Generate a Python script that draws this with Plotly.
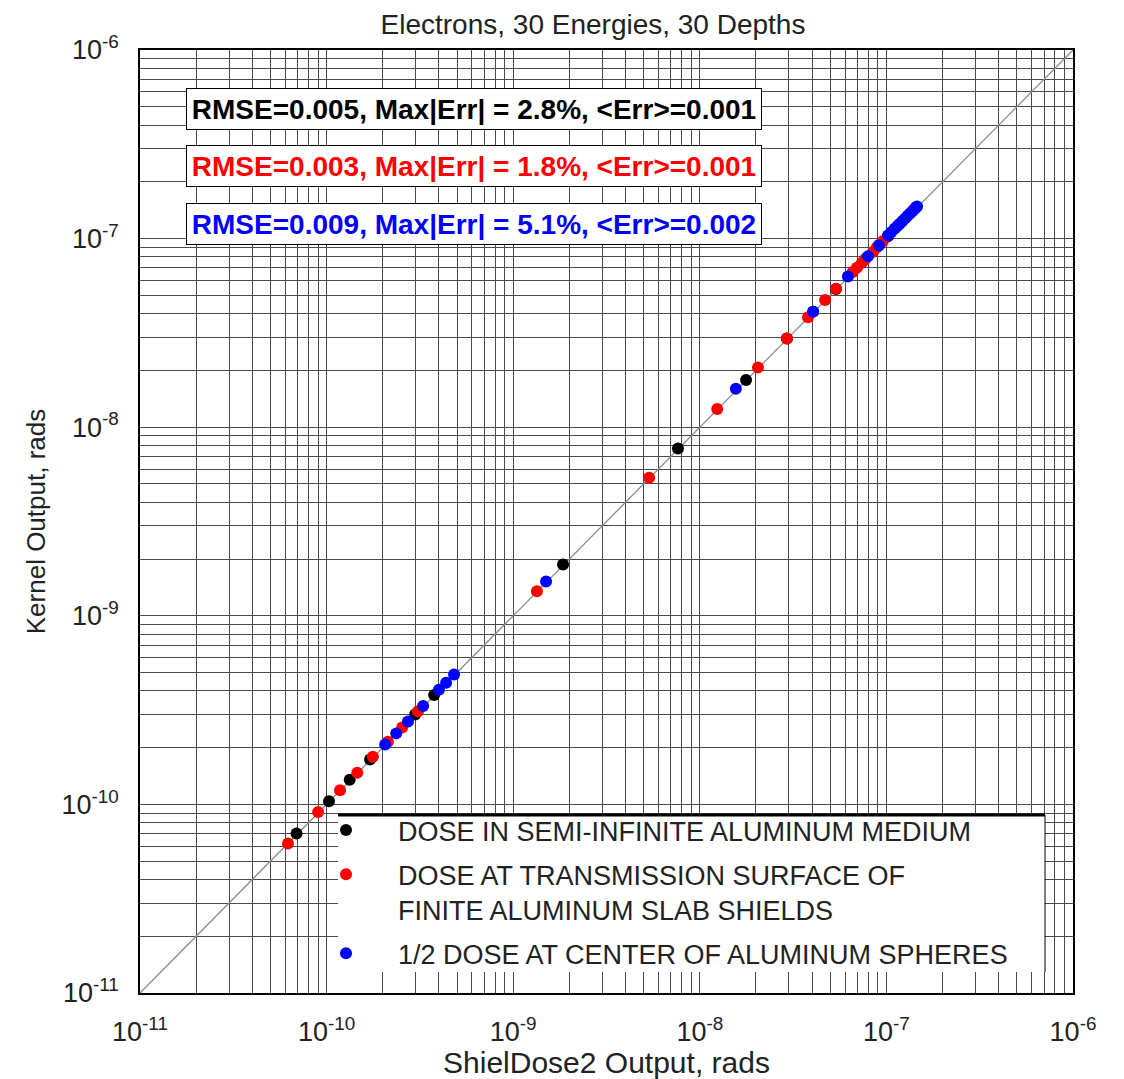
import plotly.graph_objects as go

# ---------------- data ----------------
black_x = [6.9e-11, 1.03e-10, 1.33e-10, 1.71e-10, 2.98e-10, 3.77e-10, 1.85e-9, 7.64e-9,
           1.77e-8, 2.93e-8, 4.05e-8, 5.37e-8, 1.02e-7]
black_y = [7.0e-11, 1.04e-10, 1.35e-10, 1.73e-10, 3.0e-10, 3.8e-10, 1.87e-9, 7.7e-9,
           1.78e-8, 2.95e-8, 4.1e-8, 5.4e-8, 1.03e-7]

red_x = [6.21e-11, 9.0e-11, 1.18e-10, 1.46e-10, 1.77e-10, 2.13e-10, 2.54e-10, 3.09e-10,
         1.34e-9, 5.35e-9, 1.24e-8, 2.05e-8, 2.93e-8, 3.8e-8, 4.69e-8, 5.37e-8,
         6.6e-8, 6.95e-8, 7.39e-8, 7.7e-8, 8.47e-8, 8.9e-8, 9.2e-8, 9.6e-8]
red_y = [6.2e-11, 9.1e-11, 1.19e-10, 1.47e-10, 1.79e-10, 2.15e-10, 2.56e-10, 3.12e-10,
         1.35e-9, 5.4e-9, 1.25e-8, 2.07e-8, 2.95e-8, 3.83e-8, 4.72e-8, 5.42e-8,
         6.65e-8, 7.0e-8, 7.45e-8, 7.8e-8, 8.5e-8, 9.0e-8, 9.3e-8, 9.7e-8]

blue_x = [2.06e-10, 2.36e-10, 2.73e-10, 3.29e-10, 4.0e-10, 4.37e-10, 4.82e-10, 1.5e-9,
          1.56e-8, 4.05e-8, 6.22e-8, 7.96e-8, 9.12e-8, 1.02e-7, 1.06e-7, 1.11e-7, 1.15e-7,
          1.18e-7, 1.22e-7, 1.26e-7, 1.30e-7, 1.34e-7, 1.38e-7, 1.41e-7, 1.44e-7, 1.46e-7]
blue_y = [2.08e-10, 2.38e-10, 2.75e-10, 3.32e-10, 4.05e-10, 4.42e-10, 4.88e-10, 1.52e-9,
          1.6e-8, 4.1e-8, 6.3e-8, 8.05e-8, 9.2e-8, 1.04e-7, 1.08e-7, 1.13e-7, 1.17e-7,
          1.2e-7, 1.24e-7, 1.28e-7, 1.32e-7, 1.36e-7, 1.40e-7, 1.43e-7, 1.46e-7, 1.48e-7]

identity_line = [1e-11, 1e-6]

series_names = [
    "DOSE IN SEMI-INFINITE ALUMINUM MEDIUM",
    "DOSE AT TRANSMISSION SURFACE OF<br>FINITE ALUMINUM SLAB SHIELDS",
    "1/2 DOSE AT CENTER OF ALUMINUM SPHERES",
]
stats_texts = [
    "RMSE=0.005, Max|Err| = 2.8%, <Err>=0.001",
    "RMSE=0.003, Max|Err| = 1.8%, <Err>=0.001",
    "RMSE=0.009, Max|Err| = 5.1%, <Err>=0.002",
]

decade_exponents = [-11, -10, -9, -8, -7, -6]
decade_labels = ["10<sup>-11</sup>", "10<sup>-10</sup>", "10<sup>-9</sup>",
                 "10<sup>-8</sup>", "10<sup>-7</sup>", "10<sup>-6</sup>"]

title_text = "Electrons, 30 Energies, 30 Depths"
x_title = "ShielDose2 Output, rads"
y_title = "Kernel Output, rads"

decade_vals = [10.0 ** e for e in decade_exponents]

FONT = "Liberation Sans, Arial, sans-serif"
colors = ["#000000", "#ff0000", "#0000ff"]
GRID = "#4a4a4a"

# page body has an 8px margin; plot area spans px 140..1073 x 50..993 of the window
BODY = 8
W, H = 1124 - BODY, 1079 - BODY
ML, MR, MT, MB = 140 - BODY, 51, 50 - BODY, 86
PW, PH = 933, 943


def px(xp):
    return (xp - 140) / PW


def py(yp):
    return (993 - yp) / PH


fig = go.Figure()
fig.add_trace(go.Scatter(x=identity_line, y=identity_line, mode="lines",
                         line=dict(color="#8c8c8c", width=1.3),
                         showlegend=False, hoverinfo="skip"))
for xs, ys, name, c, g in zip([black_x, red_x, blue_x], [black_y, red_y, blue_y],
                              series_names, colors, ["a", "b", "c"]):
    fig.add_trace(go.Scatter(x=xs, y=ys, mode="markers", name=name, legendgroup=g,
                             marker=dict(color=c, size=12, line=dict(width=0))))

axis_common = dict(type="log", range=[-11, -6], tickmode="array",
                   tickvals=decade_vals, ticktext=decade_labels, automargin=False,
                   showgrid=True, gridcolor=GRID, gridwidth=1,
                   minor=dict(dtick="D1", showgrid=True, gridcolor=GRID, gridwidth=1, ticks=""),
                   showline=True, linecolor="#000000", linewidth=1.5, mirror=True,
                   ticks="", zeroline=False,
                   tickfont=dict(family=FONT, size=27, color="#222222"))

fig.update_xaxes(**axis_common, ticklabelstandoff=14,
                 title=dict(text=x_title, font=dict(family=FONT, size=30, color="#222222"),
                            standoff=5))
fig.update_yaxes(**axis_common, ticklabelstandoff=14,
                 title=dict(text=y_title, font=dict(family=FONT, size=26, color="#222222"),
                            standoff=8))

# stats boxes
for i, (txt, c) in enumerate(zip(stats_texts, colors)):
    fig.add_annotation(xref="paper", yref="paper",
                       x=px(474), y=py(109 + 57.5 * i),
                       xanchor="center", yanchor="middle", showarrow=False,
                       text="<b>" + txt + "</b>", width=570, height=36, borderpad=2,
                       bgcolor="#ffffff", bordercolor="#000000", borderwidth=1,
                       font=dict(family=FONT, size=28, color=c))

# legend panel: white area hiding the grid, thick top rule and right edge
fig.add_shape(type="rect", xref="paper", yref="paper",
              x0=px(338), x1=px(1045), y0=py(972), y1=py(815),
              fillcolor="#ffffff", line=dict(width=0), layer="above")
fig.add_shape(type="line", xref="paper", yref="paper", x0=px(338), x1=px(1045),
              y0=py(815), y1=py(815), line=dict(color="#000000", width=3), layer="above")
fig.add_shape(type="line", xref="paper", yref="paper", x0=px(1045), x1=px(1045),
              y0=py(815), y1=py(972), line=dict(color="#000000", width=1), layer="above")

fig.update_layout(
    width=W, height=H,
    margin=dict(l=ML, r=MR, t=MT, b=MB, autoexpand=False),
    paper_bgcolor="#ffffff", plot_bgcolor="#ffffff",
    title=dict(text=title_text, x=(593 - BODY) / W, xanchor="center",
               y=1 - (24 - BODY) / H, yanchor="middle",
               font=dict(family=FONT, size=28, color="#222222")),
    legend=dict(x=px(294), y=py(806), xanchor="left", yanchor="top",
                bgcolor="rgba(0,0,0,0)", borderwidth=0, tracegroupgap=6, valign="top",
                itemwidth=94,
                font=dict(family=FONT, size=27, color="#222222")),
    showlegend=True,
)

fig.write_html("out.html")
